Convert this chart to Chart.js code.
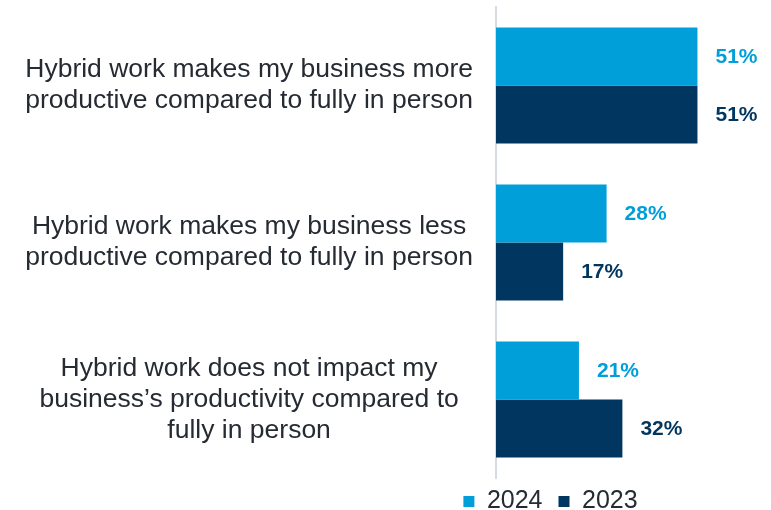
<!DOCTYPE html>
<html>
<head>
<meta charset="utf-8">
<script src="https://cdn.jsdelivr.net/npm/chart.js@4"></script>
<style>
  body { margin: 0; background: #fff; }
  #wrap { width: 771px; height: 510px; }
</style>
</head>
<body>
<div id="wrap"><canvas id="myChart"></canvas></div>
<script>
const categories = [
  ["Hybrid work makes my business more", "productive compared to fully in person"],
  ["Hybrid work makes my business less", "productive compared to fully in person"],
  ["Hybrid work does not impact my", "business\u2019s productivity compared to", "fully in person"]
];
const values2024 = [51, 28, 21];
const values2023 = [51, 17, 32];
const seriesNames = ["2024", "2023"];

const blue = "#009fda";
const navy = "#00365f";
const textColor = "#262b33";
const fontFamily = "'Liberation Sans', Arial, sans-serif";

// percent labels at the end of every bar
const barLabels = {
  id: "barLabels",
  afterDatasetsDraw(chart) {
    const ctx = chart.ctx;
    ctx.save();
    ctx.font = "bold 21px " + fontFamily;
    ctx.textBaseline = "middle";
    ctx.textAlign = "left";
    chart.data.datasets.forEach((ds, i) => {
      chart.getDatasetMeta(i).data.forEach((bar, j) => {
        ctx.fillStyle = ds.backgroundColor;
        ctx.fillText(ds.data[j] + "%", bar.x + 18, bar.y + 1);
      });
    });
    ctx.restore();
  }
};

// legend sits under the bars, not centred on the whole canvas
const moveLegend = {
  id: "moveLegend",
  afterLayout(chart) {
    const l = chart.legend;
    l.left += 184;
    l.right += 184;
    l.top -= 5;
    l.bottom -= 5;
  }
};

const ctx = document.getElementById("myChart");
new Chart(ctx, {
  type: "bar",
  data: {
    labels: categories,
    datasets: [
      {
        label: seriesNames[0],
        data: values2024,
        backgroundColor: blue,
        barPercentage: 1,
        categoryPercentage: 0.74,
      },
      {
        label: seriesNames[1],
        data: values2023,
        backgroundColor: navy,
        barPercentage: 1,
        categoryPercentage: 0.74,
      },
    ],
  },
  options: {
    indexAxis: "y",
    responsive: true,
    maintainAspectRatio: false,
    animation: false,
    layout: {
      padding: { top: 7, right: 38, left: 0, bottom: -19 },
    },
    scales: {
      x: {
        display: false,
        min: 0,
        max: 60,
      },
      y: {
        afterFit(scale) {
          scale.width = 496;
          scale.paddingTop = 0;
          scale.paddingBottom = 0;
        },
        grid: { display: false, drawTicks: false },
        border: { color: "#d5dbe1", width: 2 },
        ticks: {
          color: textColor,
          crossAlign: "center",
          padding: 23,
          font: { family: fontFamily, size: 26.5, lineHeight: 1.17 },
        },
      },
    },
    plugins: {
      legend: {
        position: "bottom",
        labels: {
          color: textColor,
          boxWidth: 11,
          boxHeight: 11,
          padding: 16,
          font: { family: fontFamily, size: 25 },
        },
      },
      tooltip: { enabled: false },
    },
  },
  plugins: [barLabels, moveLegend],
});
</script>
</body>
</html>
